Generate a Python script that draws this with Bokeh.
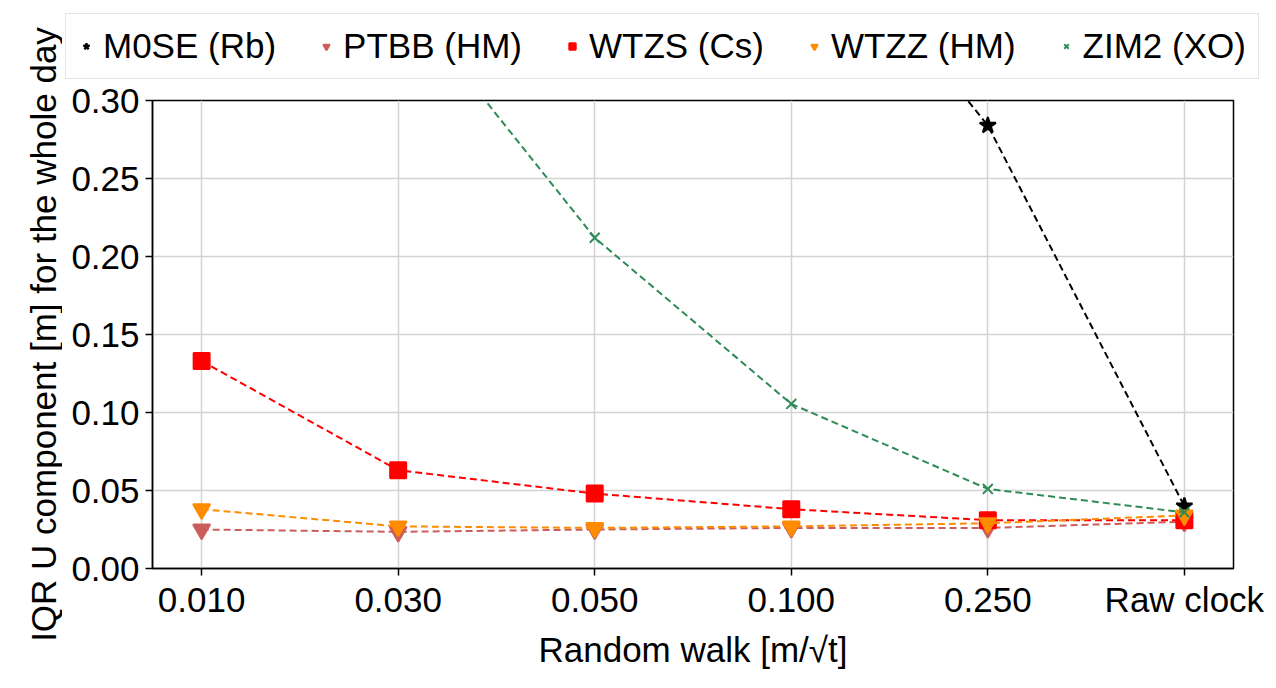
import math
from bokeh.plotting import figure
from bokeh.models import (Range1d, FixedTicker, Legend, LegendItem, ColumnDataSource, Label)
from bokeh.layouts import column, row
from bokeh.embed import file_html
from bokeh.resources import INLINE

# ---- data ----
categories = ["0.010", "0.030", "0.050", "0.100", "0.250", "Raw clock"]
m0se = [0.62, 0.56, 0.50, 0.44, 0.284, 0.040]
ptbb = [0.025, 0.0235, 0.025, 0.026, 0.026, 0.030]
wtzs = [0.133, 0.063, 0.048, 0.038, 0.031, 0.031]
wtzz = [0.038, 0.027, 0.026, 0.027, 0.029, 0.034]
zim2 = [0.46, 0.37, 0.212, 0.1055, 0.051, 0.036]
y_ticks = [0.00, 0.05, 0.10, 0.15, 0.20, 0.25, 0.30]
x_title = "Random walk [m/\u221at]"
y_title = "IQR U component [m] for the whole day"

series = [
    ("M0SE (Rb)", m0se, "black", "star", 17),
    ("PTBB (HM)", ptbb, "#cd5c5c", "inverted_triangle", 17),
    ("WTZS (Cs)", wtzs, "#ff0000", "square", 16),
    ("WTZZ (HM)", wtzz, "#ff8c00", "inverted_triangle", 17),
    ("ZIM2 (XO)", zim2, "#2e8b57", "x", 14),
]

FONT = "Liberation Sans"
xs = list(range(len(categories)))
LW = 62  # width of the y-title strip

# ---- main plot ----
p = figure(width=1206, height=600, output_backend="svg", toolbar_location=None,
           x_range=Range1d(-0.25, len(categories) - 0.75), y_range=Range1d(0, 0.30),
           min_border_left=90, min_border_right=35, min_border_bottom=112,
           min_border_top=20)

for name, vals, color, marker, size in series:
    src = ColumnDataSource(dict(x=xs, y=vals))
    p.line("x", "y", source=src, line_color=color, line_width=2, line_dash="7 4")
    p.scatter("x", "y", source=src, marker=marker, size=size,
              fill_color=color, line_color=color, line_width=2)

p.xaxis.ticker = FixedTicker(ticks=xs)
p.xaxis.major_label_overrides = {i: c for i, c in enumerate(categories)}
p.yaxis.ticker = FixedTicker(ticks=y_ticks)
p.yaxis.major_label_overrides = {t: f"{t:.2f}" for t in y_ticks}
p.xaxis.axis_label = x_title
for ax in (p.xaxis[0], p.yaxis[0]):
    ax.axis_label_text_font = FONT
    ax.axis_label_text_font_style = "normal"
    ax.axis_label_text_font_size = "35px"
    ax.axis_label_text_color = "black"
    ax.major_label_text_font = FONT
    ax.major_label_text_font_size = "35px"
    ax.major_label_text_color = "black"
    ax.minor_tick_line_color = None
    ax.major_tick_out = 7
    ax.major_tick_in = 0
    ax.major_tick_line_width = 1.5
    ax.axis_line_width = 1.5
    ax.axis_line_color = "black"
    ax.major_tick_line_color = "black"
p.xaxis.major_label_standoff = 4
p.yaxis.major_label_standoff = 6
p.xaxis.axis_label_standoff = 8

p.grid.grid_line_color = "#d3d3d3"
p.grid.grid_line_width = 1.5
p.outline_line_color = "black"
p.outline_line_width = 1.5
p.background_fill_color = "white"
p.border_fill_color = "white"

# ---- legend strip (renderers draw the same data, outside its visible range) ----
lg = figure(width=1206, height=80, output_backend="svg", toolbar_location=None,
            x_range=Range1d(-30, -29), y_range=Range1d(0, 1),
            x_axis_location=None, y_axis_location=None, min_border=0)
lg.grid.visible = False
lg.outline_line_color = None
items = []
for name, vals, color, marker, size in series:
    r = lg.scatter(x=xs, y=vals, marker=marker, size=size,
                   fill_color=color, line_color=color, line_width=2)
    items.append(LegendItem(label=name, renderers=[r]))
legend = Legend(items=items, orientation="horizontal", location=(3, 1))
legend.label_text_font = FONT
legend.label_text_font_size = "35px"
legend.label_text_color = "black"
legend.glyph_width = 16
legend.glyph_height = 16
legend.label_standoff = 9
legend.spacing = 42
legend.padding = 12
legend.margin = 0
legend.border_line_color = "#cccccc"
legend.border_line_width = 1.5
legend.background_fill_alpha = 1.0
lg.add_layout(legend, "center")

# ---- y title strip ----
yl = figure(width=LW, height=680, output_backend="svg", toolbar_location=None,
            x_range=Range1d(0, 1), y_range=Range1d(0, 1),
            x_axis_location=None, y_axis_location=None, min_border=0)
yl.grid.visible = False
yl.outline_line_color = None
yl.add_layout(Label(x=43, y=680 - 334, x_units="screen", y_units="screen",
                    text=y_title, angle=math.pi / 2, text_align="center",
                    text_baseline="middle", text_font=FONT,
                    text_font_size="35px", text_color="black"))

if "frame_align" in lg.properties():
    for f in (lg, p, yl):
        f.frame_align = False
    top = lg
else:
    top = row(lg, spacing=0)

layout = row(yl, column(top, p, spacing=0), spacing=0)
open("out.html", "w").write(file_html(layout, INLINE))
